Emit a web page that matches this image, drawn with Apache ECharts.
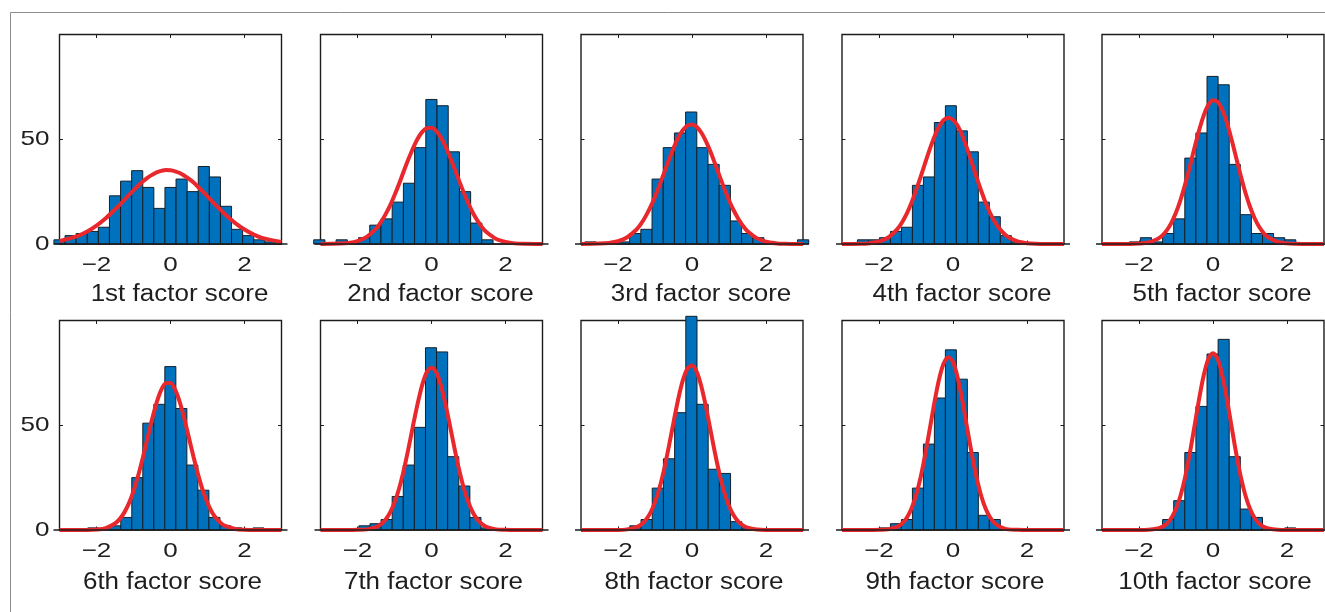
<!DOCTYPE html>
<html><head><meta charset="utf-8">
<script src="https://cdn.jsdelivr.net/npm/echarts@6/dist/echarts.min.js"></script>
<style>html,body{margin:0;padding:0;background:#fff;} #chart{width:1325px;height:612px;}</style>
</head><body><div id="chart"></div>
<script>
// ---------- data ----------
const panelNames = ['1st factor score','2nd factor score','3rd factor score','4th factor score','5th factor score',
  '6th factor score','7th factor score','8th factor score','9th factor score','10th factor score'];
const xTicks = [-2, 0, 2];
const yTicks = [0, 50];

// histogram bins: first bin edge, bin width, counts per bin
const binStart = [-3.15, -3.184, -2.895, -2.582, -2.262, -2.237, -1.963, -1.68, -1.988, -1.362];
const binWidth = [0.3, 0.303, 0.3025, 0.297, 0.3, 0.2977, 0.3, 0.3025, 0.297, 0.3];
const counts1 = [2,4,5,6,8,23,30,35,27,17,27,31,25,37,32,18,7,4,2,1];
const counts2 = [2,0,2,1,3,9,12,20,29,46,69,66,44,25,10,2];
const counts3 = [1,0,0,1,5,7,31,46,53,63,46,38,28,11,5,3,1,0,0,2];
const counts4 = [2,2,3,6,8,28,32,58,66,54,44,20,13,4,1];
const counts5 = [1,3,1,5,12,41,53,80,76,38,14,5,5,3,2];
const counts6 = [1,0,2,6,25,51,60,78,58,31,19,6,2,1,0,1];
const counts7 = [2,3,5,16,31,49,87,85,35,21,6,1];
const counts8 = [2,5,20,34,56,102,60,29,27,4,1];
const counts9 = [1,3,5,20,41,63,86,72,37,7,5];
const counts10 = [5,14,37,59,84,91,35,10,6,0,0,1];

// fitted density curves, read at these x positions
const curveX = [-3,-2.5,-2.25,-2,-1.75,-1.5,-1.375,-1.25,-1.125,-1,-0.875,-0.75,-0.625,-0.5,-0.375,-0.25,-0.125,0,
  0.125,0.25,0.375,0.5,0.625,0.75,0.875,1,1.125,1.25,1.375,1.5,1.75,2,2.25,2.5,3];
const curve1 = [1.4,3.9,6.0,8.8,12.3,16.5,18.7,21.0,23.4,25.6,27.8,29.8,31.6,33.0,34.2,34.9,35.3,35.2,
  34.7,33.9,32.6,31.1,29.3,27.2,25.0,22.7,20.4,18.1,15.9,13.7,10.0,6.9,4.5,2.8,1.0];
const curve2 = [0.0,0.2,0.5,1.4,3.4,7.3,10.2,13.9,18.2,23.3,28.8,34.7,40.4,45.7,50.2,53.5,55.3,55.5,
  54.0,51.0,46.7,41.5,35.8,30.0,24.4,19.2,14.7,10.9,7.8,5.5,2.4,1.0,0.3,0.1,0.0];
const curve3 = [0.0,0.2,0.5,1.3,3.2,6.9,9.7,13.3,17.6,22.6,28.2,34.2,40.1,45.7,50.6,54.3,56.5,57.1,
  56.0,53.2,49.1,44.0,38.2,32.2,26.4,20.9,16.1,12.1,8.7,6.1,2.8,1.1,0.4,0.1,0.0];
const curve4 = [0.0,0.1,0.4,1.2,3.1,7.2,10.4,14.5,19.6,25.5,32.0,38.8,45.4,51.3,56.1,59.2,60.3,59.3,
  56.4,51.8,45.9,39.3,32.5,26.0,20.0,14.9,10.7,7.5,5.0,3.2,1.2,0.4,0.1,0.0,0.0];
const curve5 = [0.0,0.0,0.0,0.2,0.7,2.4,4.0,6.5,10.1,15.0,21.2,28.7,37.1,45.9,54.3,61.4,66.4,68.6,
  67.8,64.1,57.9,50.0,41.3,32.6,24.6,17.8,12.3,8.1,5.1,3.1,1.0,0.3,0.1,0.0,0.0];
const curve6 = [0.0,0.0,0.0,0.2,0.9,3.1,5.2,8.3,12.7,18.6,25.9,34.4,43.6,52.7,60.8,66.9,70.1,70.2,
  67.0,61.1,53.0,43.9,34.7,26.2,18.8,12.9,8.4,5.3,3.1,1.8,0.5,0.1,0.0,0.0,0.0];
const curve7 = [0.0,0.0,0.0,0.1,0.3,1.4,2.7,4.8,8.1,13.1,19.8,28.5,38.7,49.7,60.3,69.3,75.4,77.5,
  75.4,69.3,60.3,49.7,38.7,28.5,19.8,13.1,8.1,4.8,2.7,1.4,0.3,0.1,0.0,0.0,0.0];
const curve8 = [0.0,0.0,0.0,0.0,0.3,1.4,2.6,4.8,8.2,13.3,20.3,29.3,39.9,51.3,62.3,71.3,77.0,78.5,
  75.6,68.7,58.9,47.7,36.4,26.3,17.9,11.5,7.0,4.0,2.2,1.1,0.2,0.0,0.0,0.0,0.0];
const curve9 = [0.0,0.0,0.0,0.1,0.3,1.6,3.1,5.8,10.1,16.5,25.2,36.1,48.5,61.1,72.1,79.6,82.5,80.1,
  72.8,62.0,49.5,37.1,26.0,17.1,10.5,6.1,3.3,1.7,0.8,0.3,0.1,0.0,0.0,0.0,0.0];
const curve10 = [0.0,0.0,0.0,0.0,0.1,0.7,1.5,3.0,5.7,10.1,16.6,25.5,36.8,49.6,62.6,73.9,81.6,84.4,
  81.6,73.9,62.6,49.6,36.8,25.5,16.6,10.1,5.7,3.0,1.5,0.7,0.1,0.0,0.0,0.0,0.0];

// ---------- layout / style ----------
const allCounts = [counts1,counts2,counts3,counts4,counts5,counts6,counts7,counts8,counts9,counts10];
const allCurves = [curve1,curve2,curve3,curve4,curve5,curve6,curve7,curve8,curve9,curve10];
const FONT = '"Liberation Sans", Arial, Helvetica, sans-serif';
const TEXT = '#1e1e1e';
const AX = '#1c1c1c';
const BAR = '#0072BD';
const RED = '#e8282c';
const gridLefts = [59.5, 320.5, 581, 842, 1102];
const gridTops = [34.5, 320.5];
const gridW = 222, gridH = 209.5;
const nameShift = [9, 2];
const nameGap = [51, 53];

const fmt = v => v < 0 ? '\u2212' + Math.abs(v) : String(v);

const grids = [], xAxes = [], yAxes = [], series = [];
for (let i = 0; i < 10; i++) {
  const row = Math.floor(i / 5), col = i % 5;
  grids.push({left: gridLefts[col], top: gridTops[row], width: gridW, height: gridH,
    show: true, borderColor: AX, borderWidth: 1.4, backgroundColor: 'transparent'});
  ['bottom', 'top'].forEach(pos => xAxes.push({
    gridIndex: i, type: 'value', min: -3, max: 3, position: pos,
    axisLine: {show: false, onZero: false}, splitLine: {show: false},
    axisTick: {show: true, inside: true, length: 3.5, customValues: xTicks, lineStyle: {color: AX, width: 1}},
    axisLabel: {show: false, customValues: xTicks}
  }));
  ['left', 'right'].forEach(pos => yAxes.push({
    gridIndex: i, type: 'value', min: 0, max: 100, position: pos,
    axisLine: {show: false, onZero: false}, splitLine: {show: false},
    axisTick: {show: true, inside: true, length: 3.5, customValues: [0, 50, 100], lineStyle: {color: AX, width: 1}},
    axisLabel: {show: false, customValues: yTicks}
  }));
  const start = binStart[i], w = binWidth[i];
  series.push({
    type: 'custom', xAxisIndex: 2 * i, yAxisIndex: 2 * i, clip: false, z: 2,
    encode: {x: [0, 1], y: 2},
    data: allCounts[i].map((c, k) => [start + k * w, start + (k + 1) * w, c]),
    renderItem: function (params, api) {
      const c = api.value(2);
      if (!c) return null;
      const p0 = api.coord([api.value(0), c]);
      const p1 = api.coord([api.value(1), 0]);
      return {type: 'rect', shape: {x: p0[0], y: p0[1], width: p1[0] - p0[0], height: p1[1] - p0[1]},
        style: {fill: BAR, stroke: '#15202a', lineWidth: 1}};
    }
  });
  series.push({
    type: 'line', xAxisIndex: 2 * i, yAxisIndex: 2 * i, z: 5,
    data: curveX.map((x, k) => [x, allCurves[i][k]]),
    showSymbol: false, smooth: 0.3, lineStyle: {color: RED, width: 4}, silent: true
  });
}

const chart = echarts.init(document.getElementById('chart'), null, {renderer: 'canvas'});
chart.setOption({animation: false, backgroundColor: '#fff', grid: grids, xAxis: xAxes, yAxis: yAxes, series: series});

const g = [];
function txt(x, y, s, size, sx, align) {
  return {type: 'text', x: x, y: y, scaleX: sx, z: 20,
    style: {text: s, font: size + 'px ' + FONT, fill: TEXT,
      align: align, textAlign: align, verticalAlign: 'middle', textVerticalAlign: 'middle'}};
}
for (let i = 0; i < 10; i++) {
  const row = Math.floor(i / 5), col = i % 5;
  const si = 2 * i;
  xTicks.forEach(v => {
    const p = chart.convertToPixel({seriesIndex: si}, [v, 0]);
    g.push(txt(p[0], p[1] + 21.5, fmt(v), 21, 1.24, 'center'));
  });
  if (col === 0) {
    yTicks.forEach(v => {
      const p = chart.convertToPixel({seriesIndex: si}, [-3, v]);
      g.push(txt(p[0] - 10, p[1], String(v), 21, 1.24, 'right'));
    });
  }
  const c = chart.convertToPixel({seriesIndex: si}, [0, 0]);
  g.push(txt(c[0] + nameShift[row], c[1] + nameGap[row], panelNames[i], 23, 1.13, 'center'));
  const l = chart.convertToPixel({seriesIndex: si}, [-3, 0]);
  const r = chart.convertToPixel({seriesIndex: si}, [3, 0]);
  g.push({type: 'line', z: 15, shape: {x1: l[0] - 6, y1: l[1], x2: r[0] + 6, y2: r[1]},
    style: {stroke: AX, lineWidth: 1.4}});
}
g.push({type: 'rect', z: 0, shape: {x: 10.5, y: 12.5, width: 1400, height: 700},
  style: {fill: null, stroke: '#8c8c8c', lineWidth: 1}});
chart.setOption({graphic: g});
</script></body></html>
